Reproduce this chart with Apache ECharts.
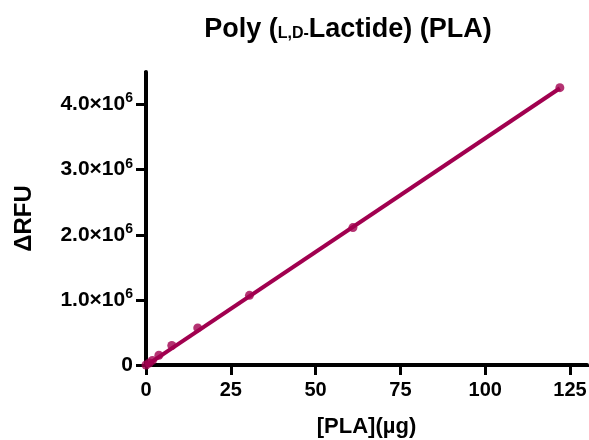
<!DOCTYPE html>
<html>
<head>
<meta charset="utf-8">
<script src="https://cdn.jsdelivr.net/npm/echarts@6/dist/echarts.min.js"></script>
<style>
  html, body { margin: 0; padding: 0; background: #fff; }
  #chart { width: 589px; height: 440px; }
</style>
</head>
<body>
<div id="chart"></div>
<script>
// PLA amount (µg) and measured ΔRFU
var plaAmount = [0, 0.95, 1.9, 3.8, 7.6, 15.25, 30.5, 61, 122];
var deltaRfu = [0, 0.03e6, 0.07e6, 0.15e6, 0.30e6, 0.57e6, 1.07e6, 2.11e6, 4.26e6];
// linear fit line, endpoints
var fitX = [0, 122];
var fitY = [-0.01e6, 4.25e6];
var xTicks = [0, 25, 50, 75, 100, 125];
var yTicks = [0, 1e6, 2e6, 3e6, 4e6];
var xMax = 130;
var yMax = 4.5e6;

var lineColor = "#a1004f";
var font = "Liberation Sans, Arial, sans-serif";

var points = plaAmount.map(function (x, i) { return [x, deltaRfu[i]]; });
var fit = fitX.map(function (x, i) { return [x, fitY[i]]; });

var chart = echarts.init(document.getElementById("chart"));
chart.setOption({
  animation: false,
  title: {
    text: "{b|Poly (}{s|L,D-}{b|Lactide) (PLA)}",
    left: 343,
    textAlign: "center",
    top: 11,
    textStyle: {
      rich: {
        b: { fontFamily: font, fontWeight: "bold", fontSize: 27, color: "#000" },
        s: { fontFamily: font, fontWeight: "bold", fontSize: 16, color: "#000", padding: [8, 0, 0, 0] },
      },
    },
  },
  grid: { left: 146, right: 2, top: 72, bottom: 75, containLabel: false, outerBoundsMode: "none" },
  xAxis: {
    type: "value",
    min: 0,
    max: xMax,
    interval: 25,
    name: "[PLA](µg)",
    nameLocation: "middle",
    nameGap: 51,
    nameTextStyle: { fontFamily: font, fontWeight: "bold", fontSize: 22, color: "#000" },
    splitLine: { show: false },
    axisLine: { show: true, onZero: false, lineStyle: { color: "#000", width: 4 } },
    axisTick: { show: true, length: 10, lineStyle: { color: "#000", width: 3 } },
    axisLabel: { customValues: xTicks, fontFamily: font, fontWeight: "bold", fontSize: 20, color: "#000", margin: 15 },
  },
  yAxis: {
    type: "value",
    min: 0,
    max: yMax,
    interval: 1e6,
    name: "ΔRFU",
    nameLocation: "middle",
    nameGap: 110,
    nameRotate: 90,
    nameTextStyle: { fontFamily: font, fontWeight: "bold", fontSize: 24, color: "#000" },
    splitLine: { show: false },
    axisLine: { show: true, onZero: false, lineStyle: { color: "#000", width: 4 } },
    axisTick: { show: true, length: 10, lineStyle: { color: "#000", width: 3 } },
    axisLabel: {
      customValues: yTicks,
      margin: 13,
      formatter: function (v) {
        if (v === 0) return "{a|0}";
        return "{a|" + (v / 1e6).toFixed(1) + "×10}{s|6}";
      },
      rich: {
        a: { fontFamily: font, fontWeight: "bold", fontSize: 21, color: "#000" },
        s: { fontFamily: font, fontWeight: "bold", fontSize: 14, color: "#000", padding: [0, 0, 12, 0] },
      },
    },
  },
  series: [
    {
      type: "line",
      data: fit,
      symbol: "none",
      lineStyle: { color: lineColor, width: 4 },
      z: 2,
    },
    {
      type: "scatter",
      data: points,
      symbol: "circle",
      symbolSize: 9,
      itemStyle: { color: lineColor },
      z: 3,
    },
  ],
});

// hide the extra ticks ECharts adds at the axis ends (130 and 4.5e6)
var corner = chart.convertToPixel({ gridIndex: 0 }, [xMax, yMax]);
var origin = chart.convertToPixel({ gridIndex: 0 }, [0, 0]);
chart.setOption({
  graphic: [
    { type: "rect", shape: { x: origin[0] - 14, y: corner[1] - 3, width: 12, height: 6 }, style: { fill: "#fff" }, z: 100 },
    { type: "rect", shape: { x: corner[0] - 3, y: origin[1] + 2, width: 6, height: 12 }, style: { fill: "#fff" }, z: 100 },
  ],
});
</script>
</body>
</html>
